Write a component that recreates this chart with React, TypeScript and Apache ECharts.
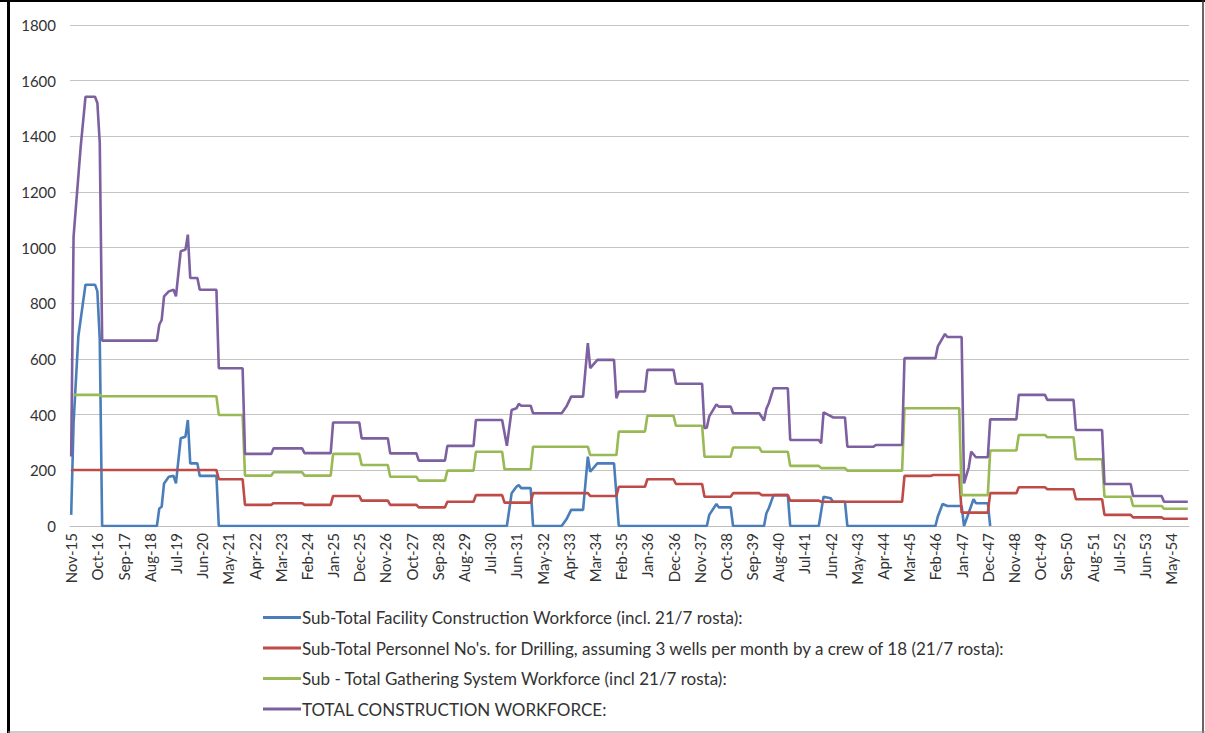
import React, { useEffect, useRef } from "react";
import * as echarts from "echarts";

// ---- categories (monthly, Nov-15 onwards) ----
const MONTH_NAMES = ["Jan", "Feb", "Mar", "Apr", "May", "Jun", "Jul", "Aug", "Sep", "Oct", "Nov", "Dec"];
const START_YEAR = 2015;
const START_MONTH = 10; // November
const MONTH_COUNT = 470;
const CATEGORIES: string[] = Array.from({ length: MONTH_COUNT }, (_, i) => {
  const m = (START_MONTH + i) % 12;
  const y = START_YEAR + Math.floor((START_MONTH + i) / 12);
  return `${MONTH_NAMES[m]}-${String(y % 100).padStart(2, "0")}`;
});

const Y_TICKS = [0, 200, 400, 600, 800, 1000, 1200, 1400, 1600, 1800];

const SERIES_NAMES = [
  "Sub-Total Facility Construction Workforce (incl. 21/7 rosta):",
  "Sub-Total Personnel No's. for Drilling, assuming 3 wells per month by a crew of 18 (21/7 rosta):",
  "Sub - Total Gathering System Workforce (incl 21/7 rosta):",
  "TOTAL CONSTRUCTION WORKFORCE:",
];

// ---- series values: [month index, workforce] at each change point ----
const FACILITY: [number, number][] = [
  [0, 40], [1, 370], [3, 681], [6, 867], [10, 867], [11, 843], [12, 669], [13, 0],
  [36, 0], [37, 63], [38, 69], [39, 153], [41, 177], [43, 180], [44, 153], [46, 315], [48, 321], [49, 381],
  [50, 225], [53, 225], [54, 180], [61, 180], [62, 0],
  [183, 0], [185, 118], [187, 141], [188, 147], [189, 136], [193, 136], [194, 0],
  [206, 0], [208, 24], [210, 58], [215, 58], [217, 249], [218, 195], [221, 225], [228, 225], [230, 0],
  [267, 0], [268, 40], [271, 79], [272, 67], [277, 67], [278, 0],
  [291, 0], [292, 46], [293, 64], [295, 111], [301, 111], [302, 0],
  [314, 0], [316, 105], [319, 100], [320, 87], [325, 87], [326, 0],
  [363, 0], [364, 34], [366, 79], [368, 72], [374, 72], [375, 0], [379, 96], [380, 82], [385, 82], [386, 0],
];

const DRILLING: [number, number][] = [
  [0, 201], [61, 201], [62, 168], [72, 168], [73, 76], [84, 76], [85, 82], [97, 82], [98, 76], [109, 76],
  [110, 108], [121, 108], [122, 91], [133, 91], [134, 76], [145, 76], [146, 67], [157, 67], [158, 87], [169, 87],
  [170, 111], [181, 111], [182, 84], [193, 84], [194, 118], [217, 118], [218, 108], [229, 108], [230, 141], [241, 141],
  [242, 168], [253, 168], [254, 151], [265, 151], [266, 105], [277, 105], [278, 118], [289, 118], [290, 111], [301, 111],
  [302, 91], [314, 91], [315, 87], [349, 87], [350, 180], [361, 180], [362, 183], [373, 183], [374, 48], [385, 48],
  [386, 118], [397, 118], [398, 139], [409, 139], [410, 132], [421, 132], [422, 96], [433, 96], [434, 40], [445, 40],
  [446, 31], [458, 31], [459, 26], [469, 26],
];

const GATHERING: [number, number][] = [
  [1, 471], [12, 471], [13, 466], [61, 466], [62, 399], [72, 399], [73, 181], [84, 181], [85, 193], [97, 193],
  [98, 181], [109, 181], [110, 259], [121, 259], [122, 219], [133, 219], [134, 177], [145, 177], [146, 163], [157, 163],
  [158, 199], [169, 199], [170, 267], [181, 267], [182, 204], [193, 204], [194, 285], [217, 285], [218, 255], [229, 255],
  [230, 339], [241, 339], [242, 396], [253, 396], [254, 360], [265, 360], [266, 249], [277, 249], [278, 282], [289, 282],
  [290, 267], [301, 267], [302, 216], [314, 216], [315, 208], [325, 208], [326, 199], [349, 199], [350, 423], [373, 423],
  [374, 111], [385, 111], [386, 271], [397, 271], [398, 327], [409, 327], [410, 319], [421, 319], [422, 240], [433, 240],
  [434, 105], [445, 105], [446, 72], [458, 72], [459, 62], [469, 62],
];

const TOTAL: [number, number][] = [
  [0, 250], [1, 1040], [4, 1364], [6, 1542], [10, 1542], [11, 1520], [12, 1376], [13, 666],
  [36, 666], [37, 723], [38, 740], [39, 825], [41, 843], [43, 849], [44, 825], [46, 987], [48, 993], [49, 1047],
  [50, 891], [53, 891], [54, 849], [61, 849], [62, 567], [72, 567], [73, 259], [84, 259], [85, 279], [97, 279],
  [98, 262], [109, 262], [110, 372], [121, 372], [122, 315], [133, 315], [134, 261], [145, 261], [146, 235], [157, 235],
  [158, 288], [169, 288], [170, 381], [181, 381], [183, 288], [185, 417], [187, 423], [188, 439], [189, 432], [193, 432],
  [194, 405], [206, 405], [208, 429], [210, 465], [215, 465], [217, 657], [218, 567], [221, 597], [228, 597], [229, 459],
  [230, 483], [241, 483], [242, 561], [253, 561], [254, 511], [265, 511], [266, 351], [267, 354], [268, 394], [271, 437],
  [272, 429], [277, 429], [278, 405], [289, 405], [291, 379], [292, 421], [293, 441], [295, 495], [301, 495], [302, 309],
  [314, 309], [315, 297], [316, 408], [319, 395], [320, 390], [325, 390], [326, 285], [337, 285], [338, 291], [349, 291],
  [350, 603], [363, 603], [364, 645], [366, 675], [367, 690], [368, 679], [374, 679], [375, 153], [377, 211], [378, 267],
  [380, 247], [385, 247], [386, 383], [397, 383], [398, 471], [409, 471], [410, 453], [421, 453], [422, 345], [433, 345],
  [434, 151], [445, 151], [446, 108], [458, 108], [459, 87], [469, 87],
];

const COLORS = ["#4A7EBB", "#BE4B48", "#98B954", "#7D60A0"];
const FONT = "Lato, 'Liberation Sans', sans-serif";

export default function App() {
  const ref = useRef<HTMLDivElement>(null);

  useEffect(() => {
    if (!ref.current) return;
    const chart = echarts.init(ref.current, undefined, { renderer: "svg" });
    const datasets = [FACILITY, DRILLING, GATHERING, TOTAL];
    chart.setOption({
      animation: false,
      backgroundColor: "#ffffff",
      textStyle: { fontFamily: FONT },
      grid: { left: 70, right: 16, top: 25, bottom: 207, containLabel: false },
      xAxis: {
        type: "category",
        data: CATEGORIES,
        boundaryGap: true,
        axisLine: { show: true, lineStyle: { color: "#BFBFBF", width: 1 } },
        axisTick: { show: false },
        axisLabel: {
          interval: 10,
          rotate: 90,
          margin: 7,
          fontSize: 15,
          color: "#333333",
          fontFamily: FONT,
        },
        splitLine: { show: false },
      },
      yAxis: {
        type: "value",
        min: Y_TICKS[0],
        max: Y_TICKS[Y_TICKS.length - 1],
        interval: 200,
        axisLine: { show: false },
        axisTick: { show: false },
        axisLabel: {
          fontSize: 15,
          color: "#333333",
          margin: 14,
          fontFamily: FONT,
          formatter: (v: number) => String(v),
        },
        splitLine: { show: true, lineStyle: { color: "#C4C4C4", width: 1 } },
      },
      legend: {
        orient: "vertical",
        left: 258,
        top: 604,
        padding: 5,
        itemGap: 13.5,
        itemWidth: 38,
        itemHeight: 3,
        icon: "rect",
        textStyle: { fontSize: 17, color: "#333333", fontFamily: FONT, padding: [0, 0, 0, -4] },
        data: SERIES_NAMES,
      },
      series: SERIES_NAMES.map((name, k) => ({
        name,
        type: "line",
        data: datasets[k],
        symbol: "none",
        showSymbol: false,
        lineStyle: { color: COLORS[k], width: 2.6 },
        itemStyle: { color: COLORS[k] },
        z: 2 + k,
      })),
      graphic: [
        { type: "line", shape: { x1: 8.5, y1: 0, x2: 8.5, y2: 733 }, style: { stroke: "#000", lineWidth: 3 } },
        { type: "line", shape: { x1: 0, y1: 1, x2: 1205, y2: 1 }, style: { stroke: "#000", lineWidth: 2 } },
        { type: "line", shape: { x1: 1203, y1: 0, x2: 1203, y2: 733 }, style: { stroke: "#333", lineWidth: 1.5 } },
        { type: "line", shape: { x1: 8, y1: 732, x2: 1205, y2: 732 }, style: { stroke: "#999", lineWidth: 1 } },
      ],
    });
    return () => chart.dispose();
  }, []);

  return (
    <div
      ref={ref}
      style={{ position: "fixed", left: 0, top: 0, width: 1205, height: 733, background: "#fff" }}
    />
  );
}
